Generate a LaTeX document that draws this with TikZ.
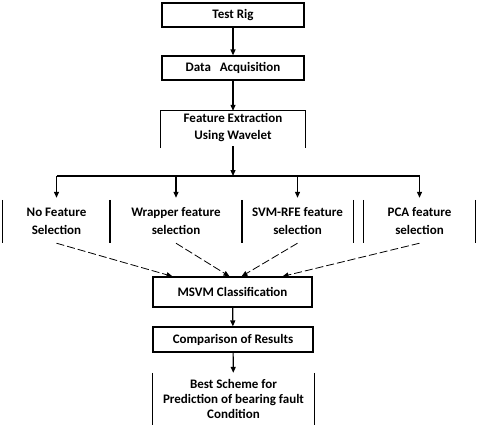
\documentclass[tikz,border=0pt]{standalone}
\usepackage{fontspec}
\setmainfont{Carlito}
\usetikzlibrary{arrows.meta, positioning, calc}

\begin{document}
\begin{tikzpicture}[
        x=1pt, y=-1pt,
        box/.style={rectangle, draw, line width=1.2pt, inner sep=0pt, align=center, font=\bfseries\fontsize{13}{17}\selectfont},
        openbox/.style={rectangle, inner sep=0pt, align=center, font=\bfseries\fontsize{13}{18}\selectfont},
        side/.style={line width=1.2pt},
        arrow/.style={-{Triangle[length=6pt, width=5pt]}, line width=1.2pt},
        dasharrow/.style={-{Triangle[length=6pt, width=5pt]}, line width=0.8pt, dash pattern=on 8pt off 3pt}
    ]
    \useasboundingbox (0,0) rectangle (478,432);

    % --- Top chain ---
    \node[box, minimum width=142, minimum height=24] (rig) at (233,15) {Test Rig};
    \node[box, minimum width=142, minimum height=24] (daq) at (233,68) {Data\ \ \ Acquisition};
    \node[openbox, minimum width=144, minimum height=36, font=\bfseries\fontsize{13}{17}\selectfont] (fext) at (233,128) {Feature Extraction\\Using Wavelet};
    \draw[side] ([yshift=-2]fext.south west) -- ([yshift=-1]fext.north west) -- ([yshift=-1]fext.north east) -- ([yshift=-2]fext.south east);

    \draw[arrow] (rig) -- (daq);
    \draw[arrow] (daq) -- ([yshift=-1]fext.north);

    % --- Feature selection branches ---
    \coordinate (split) at (233,176);
    \draw[arrow] (fext.south) -- (split);

    \node[openbox, minimum width=107, minimum height=43] (nofs) at (56.5,221.5) {No Feature\\Selection};
    \node[openbox, minimum width=132, minimum height=43] (wrap) at (176,221.5) {Wrapper feature\\selection};
    \node[openbox, minimum width=111, minimum height=43] (svm) at (297.5,221.5) {SVM-RFE feature\\selection};
    \node[openbox, minimum width=111, minimum height=43] (pca) at (419.5,221.5) {PCA feature\\selection};

    \draw[side] (nofs.north |- split) -- (pca.north |- split);
    \foreach \b in {nofs, wrap, svm, pca} {
        \draw[side] (\b.north west) -- (\b.south west);
        \draw[side] (\b.north east) -- (\b.south east);
        \draw[arrow, shorten >=2pt] (\b.north |- split) -- (\b.north);
    }

    % --- Classification and results ---
    \node[box, minimum width=159, minimum height=30] (msvm) at (232.5,292) {MSVM Classification};
    \node[box, minimum width=160, minimum height=25] (comp) at (233,339.5) {Comparison of Results};
    \node[openbox, minimum width=161, minimum height=52, font=\bfseries\fontsize{13}{15}\selectfont] (best) at (233.5,399) {Best Scheme for\\Prediction of bearing fault\\Condition};
    \draw[side] (best.north west) -- (best.south west);
    \draw[side] (best.north east) -- (best.south east);

    \draw[dasharrow] (nofs.south) -- ([xshift=-60]msvm.north);
    \draw[dasharrow] (wrap.south) -- ([xshift=-3]msvm.north);
    \draw[dasharrow] (svm.south) -- ([xshift=9]msvm.north);
    \draw[dasharrow] (pca.south) -- ([xshift=50]msvm.north);

    \draw[arrow] (msvm) -- (comp);
    \draw[arrow] (comp) -- (best);

\end{tikzpicture}
\end{document}
